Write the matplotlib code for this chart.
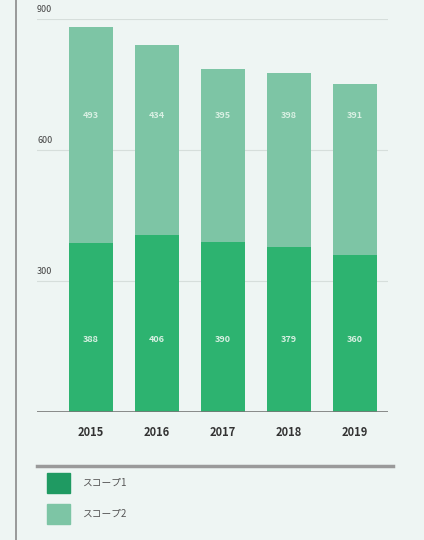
import matplotlib
matplotlib.use("Agg")
import matplotlib.pyplot as plt
from matplotlib.patches import Rectangle
from matplotlib.lines import Line2D

plt.rcParams['font.family'] = ['Noto Sans CJK JP', 'DejaVu Sans']

years = ["2015", "2016", "2017", "2018", "2019"]
scope1 = [388, 406, 390, 379, 360]
scope2 = [493, 434, 395, 398, 391]
yticks = [300, 600, 900]
legend_labels = ["スコープ1", "スコープ2"]

c1 = "#2db370"
c2 = "#7dc5a5"
bg = "#eef5f3"

W, H = 424, 540
fig = plt.figure(figsize=(W / 100, H / 100), dpi=100, facecolor=bg)

ax = fig.add_axes([37 / W, 1 - 412 / H, (388 - 37) / W, (412 - 19) / H])
ax.set_facecolor(bg)
x = list(range(len(years)))
ax.bar(x, scope1, width=0.66, color=c1, zorder=3)
ax.bar(x, scope2, bottom=scope1, width=0.66, color=c2, zorder=3)
ax.set_xlim(-0.82, 4.5)
ax.set_ylim(0, 900)

for t in yticks:
    ax.axhline(t, color="#d6dedb", lw=0.8, zorder=1)
    ax.text(-0.82, t + 12, str(t), fontsize=6.5, color="#444444",
            ha="left", va="bottom", clip_on=False)
ax.axhline(0, color="#777777", lw=1.2, zorder=4)

for i in x:
    ax.text(i, 165, str(scope1[i]), ha="center", va="center", fontsize=6.5,
            color="#d9f0e3", fontweight="bold", zorder=5)
    ax.text(i, 680, str(scope2[i]), ha="center", va="center", fontsize=6.5,
            color="#d9f0e3", fontweight="bold", zorder=5)
    ax.text(i, -48, years[i], ha="center", va="center", fontsize=8,
            color="#333333", fontweight="bold", clip_on=False)

ax.set_xticks([])
ax.set_yticks([])
for s in ax.spines.values():
    s.set_visible(False)

# left border line
fig.add_artist(Line2D([16 / W, 16 / W], [0, 1], color="#8a8a8a", lw=1.2,
                      transform=fig.transFigure))
# separator line above legend
fig.add_artist(Line2D([37 / W, 393 / W], [1 - 466 / H, 1 - 466 / H],
                      color="#9a9a9a", lw=2.5, transform=fig.transFigure))

# legend
for k, (lab, col, yc) in enumerate(zip(legend_labels, ["#1f9a62", c2], [483, 514])):
    fig.add_artist(Rectangle((47 / W, 1 - (yc + 10) / H), 23 / W, 20 / H,
                             color=col, transform=fig.transFigure))
    fig.text(82 / W, 1 - yc / H, lab, fontsize=7, color="#555555",
             ha="left", va="center")

fig.savefig("out.png", dpi=100, facecolor=bg)
